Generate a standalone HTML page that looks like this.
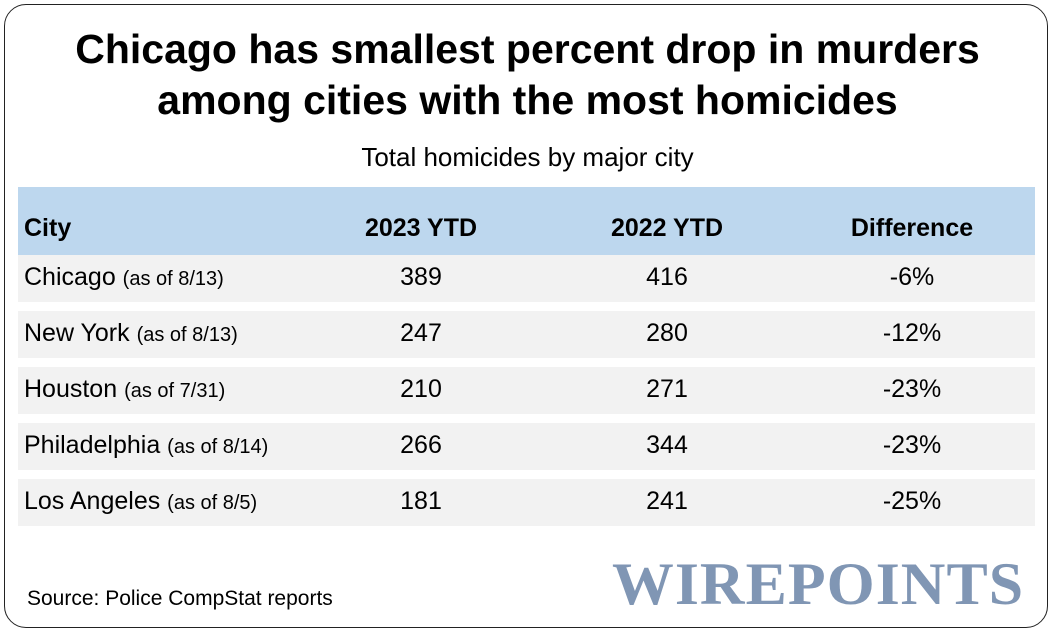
<!DOCTYPE html>
<html><head><meta charset="utf-8"><style>
body{margin:0;width:1055px;height:635px;background:#fff;font-family:"Liberation Sans",sans-serif;position:relative;overflow:hidden}
.frame{position:absolute;left:4px;top:4px;width:1044px;height:624px;border:1.5px solid #222;border-radius:22px;box-sizing:border-box}
.t{position:absolute;left:0;width:1055px;text-align:center;color:#000}
.band{position:absolute;left:18px;width:1017px}
.cell{position:absolute;font-size:25px;color:#000;white-space:nowrap}
.c{transform:translateX(-50%)}
small{font-size:20px}
</style></head><body>
<div class="frame"></div>
<div class="t" style="top:24px;font-size:41px;font-weight:bold;line-height:51px;letter-spacing:0px">Chicago has smallest percent drop in murders<br>among cities with the most homicides</div>
<div class="t" style="top:142px;font-size:26px">Total homicides by major city</div>
<div class="band" style="top:187px;height:68px;background:#bdd7ee"></div>
<div class="cell" style="left:24px;top:214px;font-weight:bold">City</div>
<div class="cell c" style="left:421px;top:214px;font-weight:bold">2023 YTD</div>
<div class="cell c" style="left:667px;top:214px;font-weight:bold">2022 YTD</div>
<div class="cell c" style="left:912px;top:214px;font-weight:bold">Difference</div>
<div id="rows"></div>
<div class="cell" style="left:27px;top:587px;font-size:21px">Source: Police CompStat reports</div>
<div style="position:absolute;left:612px;top:552px;width:420px;font-family:'Liberation Serif',serif;font-weight:bold;font-size:60px;color:#8096b4;letter-spacing:1px;transform:scaleX(1.03);transform-origin:left;line-height:64px">WIREPOINTS</div>
<script>
const cities=["Chicago","New York","Houston","Philadelphia","Los Angeles"];
const asOf=["8/13","8/13","7/31","8/14","8/5"];
const ytd2023=[389,247,210,266,181];
const ytd2022=[416,280,271,344,241];
const diffs=["-6%","-12%","-23%","-23%","-25%"];
const rows=document.getElementById('rows');
cities.forEach((c,i)=>{
  const top=255+56*i;
  const b=document.createElement('div');b.className='band';
  
  
  b.style.top=top+'px';b.style.height='47px';b.style.background='#f2f2f2';rows.appendChild(b);
  const y=top+8;
  const mk=(name,left,html,center)=>{const d=document.createElement('div');d.className='cell'+(center?' c':'');
    
    
    d.style.left=left+'px';d.style.top=y+'px';d.innerHTML=html;rows.appendChild(d);};
  mk('city-name',24,c+' <small>(as of '+asOf[i]+')</small>',false);
  mk('value-2023',421,ytd2023[i],true);
  mk('value-2022',667,ytd2022[i],true);
  mk('difference',912,diffs[i],true);
});
</script>
</body></html>
